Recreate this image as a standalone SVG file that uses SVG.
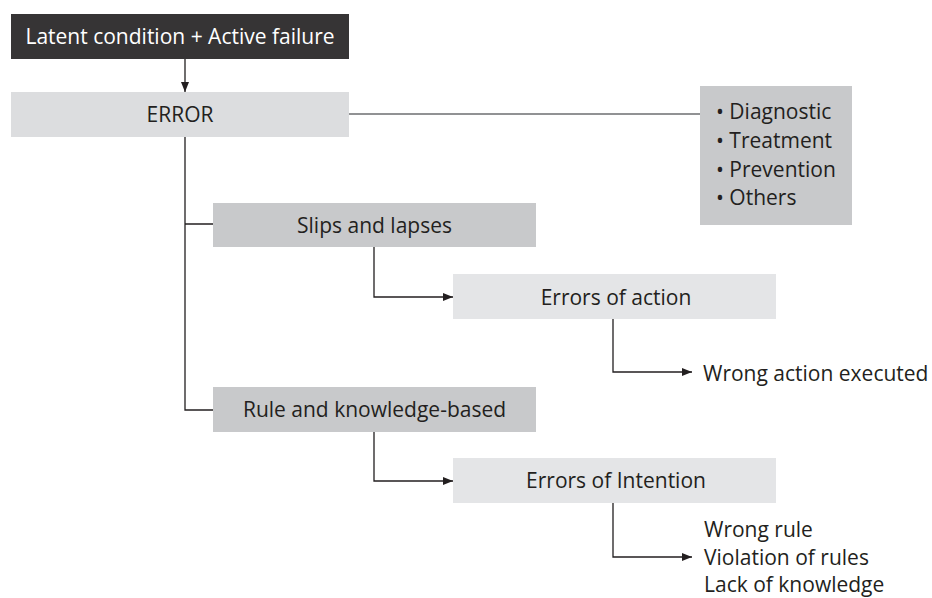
<svg xmlns="http://www.w3.org/2000/svg" width="932" height="598" viewBox="0 0 932 598">
<defs>
<style>
text{font-family:"Open Sans","Liberation Sans",sans-serif;font-size:21px;fill:#231f20}
.c{text-anchor:middle}
.w{fill:#ffffff}
.ln{fill:none;stroke:#231f20;stroke-width:1.3}
.g{fill:none;stroke:#6d6e70;stroke-width:1.6}
</style>
<marker id="ah" viewBox="0 0 10 8" refX="10" refY="4" markerWidth="10" markerHeight="8" markerUnits="userSpaceOnUse" orient="auto">
<path d="M0,0 L10,4 L0,8 Z" fill="#231f20"/>
</marker>
</defs>
<rect width="932" height="598" fill="#ffffff"/>
<g id="connectors">
<path class="ln" d="M185,59 V92" marker-end="url(#ah)"/>
<path class="g" d="M349,114 H700"/>
<path class="ln" d="M185,137 V410 H213 M185,224 H213"/>
<path class="ln" d="M374,247 V297 H453" marker-end="url(#ah)"/>
<path class="ln" d="M613,319 V372 H692" marker-end="url(#ah)"/>
<path class="ln" d="M374,432 V481 H453" marker-end="url(#ah)"/>
<path class="ln" d="M613,503 V557 H692" marker-end="url(#ah)"/>
</g>
<g id="latent">
<rect x="11" y="14" width="338" height="45" fill="#363435"/>
<text class="c w" x="180" y="44">Latent condition + Active failure</text>
</g>
<g id="error">
<rect x="11" y="92" width="338" height="45" fill="#dcdddf"/>
<text class="c" x="180" y="122">ERROR</text>
</g>
<g id="types">
<rect x="700" y="86" width="152" height="139" fill="#c8c9cb"/>
<text x="716" y="119">• Diagnostic</text>
<text x="716" y="148">• Treatment</text>
<text x="716" y="177">• Prevention</text>
<text x="716" y="205">• Others</text>
</g>
<g id="slips">
<rect x="213" y="203" width="323" height="44" fill="#c8c9cb"/>
<text class="c" x="374.5" y="233">Slips and lapses</text>
</g>
<g id="action">
<rect x="453" y="274" width="323" height="45" fill="#e4e5e7"/>
<text class="c" x="616" y="305">Errors of action</text>
</g>
<g id="wrongaction">
<text x="703" y="381">Wrong action executed</text>
</g>
<g id="rule">
<rect x="213" y="387" width="323" height="45" fill="#c8c9cb"/>
<text class="c" x="374.5" y="417">Rule and knowledge-based</text>
</g>
<g id="intention">
<rect x="453" y="458" width="323" height="45" fill="#e4e5e7"/>
<text class="c" x="616" y="488">Errors of Intention</text>
</g>
<g id="intentionitems">
<text x="704" y="537">Wrong rule</text>
<text x="704" y="565">Violation of rules</text>
<text x="704" y="592">Lack of knowledge</text>
</g>
</svg>
